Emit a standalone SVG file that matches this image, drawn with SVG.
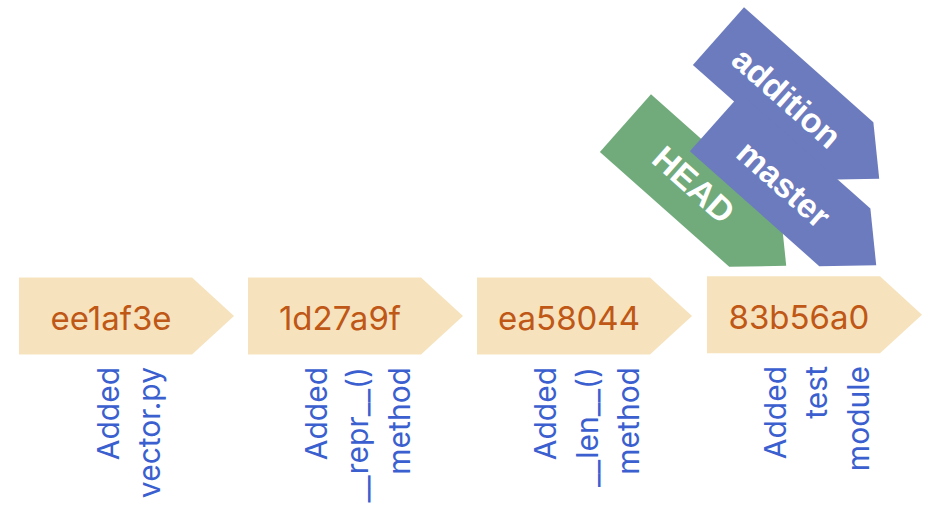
<svg xmlns="http://www.w3.org/2000/svg" width="927" height="516" viewBox="0 0 927 516">
<style>
.commit{fill:#f6e3bd}
.hash{font-family:Inter,"Liberation Sans",sans-serif;font-size:33px;fill:#bf5716;text-anchor:middle}
.lbl{font-family:Inter,"Liberation Sans",sans-serif;font-size:30px;fill:#3b5fcf;text-anchor:end}
.ref{font-family:"Liberation Sans",Arial,sans-serif;font-weight:bold;font-size:34px;fill:#ffffff;text-anchor:middle}
.head{fill:#71aa7b}
.branch{fill:#6c7bbd}
</style>
<defs>
<path id="penta" d="M0,0 H173 L215,38.5 L173,77 H0 Z"/>
</defs>
<rect width="927" height="516" fill="#ffffff"/>
<g id="connectors"></g>
<g id="commit-ee1af3e" transform="translate(19,277.5)">
<use href="#penta" class="commit"/>
<text class="hash" x="92" y="52.5">ee1af3e</text>
</g>
<g id="commit-1d27a9f" transform="translate(248,277.5)">
<use href="#penta" class="commit"/>
<text class="hash" x="92" y="52.5">1d27a9f</text>
</g>
<g id="commit-ea58044" transform="translate(477,277.5)">
<use href="#penta" class="commit"/>
<text class="hash" x="92" y="52.5">ea58044</text>
</g>
<g id="commit-83b56a0" transform="translate(707,276.3)">
<use href="#penta" class="commit"/>
<text class="hash" x="92" y="52.5">83b56a0</text>
</g>
<g id="label-ee1af3e" transform="translate(118.5,367) rotate(-90)">
<text class="lbl"><tspan x="0" y="0">Added</tspan><tspan x="0" dy="41.5">vector.py</tspan></text>
</g>
<g id="label-1d27a9f" transform="translate(326.5,367) rotate(-90)">
<text class="lbl"><tspan x="0" y="0">Added</tspan><tspan x="0" dy="41.5">__repr__()</tspan><tspan x="0" dy="41.5">method</tspan></text>
</g>
<g id="label-ea58044" transform="translate(556,367) rotate(-90)">
<text class="lbl"><tspan x="0" y="0">Added</tspan><tspan x="0" dy="41.5">__len__()</tspan><tspan x="0" dy="41.5">method</tspan></text>
</g>
<g id="label-83b56a0" transform="translate(785.5,366) rotate(-90)">
<text class="lbl"><tspan x="0" y="0">Added</tspan><tspan x="0" dy="41.5">test</tspan><tspan x="0" dy="41.5">module</tspan></text>
</g>
<g id="ref-HEAD" transform="translate(651,94.3) rotate(41.6)">
<use href="#penta" class="head"/>
<text class="ref" x="92" y="51">HEAD</text>
</g>
<g id="ref-addition" transform="translate(744,7.3) rotate(41.6)">
<use href="#penta" class="branch"/>
<text class="ref" x="92" y="51">addition</text>
</g>
<g id="ref-master" transform="translate(741,93.7) rotate(41.6)">
<use href="#penta" class="branch"/>
<text class="ref" x="92" y="51">master</text>
</g>
</svg>
